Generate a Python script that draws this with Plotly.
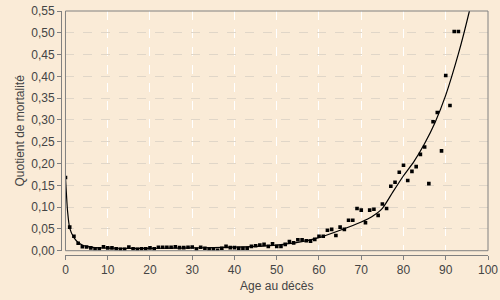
import plotly.graph_objects as go

ages = list(range(0, 94))
quotients = [
    0.168, 0.054, 0.033, 0.017, 0.009, 0.0085, 0.0065, 0.0045, 0.0045, 0.009,
    0.0065, 0.0065, 0.0045, 0.003, 0.003, 0.0085, 0.0045, 0.003, 0.0045, 0.0045,
    0.0065, 0.0045, 0.008, 0.008, 0.008, 0.008, 0.009, 0.007, 0.007, 0.008,
    0.0085, 0.003, 0.008, 0.0055, 0.004, 0.003, 0.001, 0.0055, 0.010, 0.007,
    0.007, 0.0055, 0.0055, 0.0055, 0.010, 0.0115, 0.013, 0.0145, 0.010, 0.016,
    0.010, 0.010, 0.0145, 0.021, 0.018, 0.025, 0.025, 0.023, 0.022, 0.026,
    0.033, 0.033, 0.047, 0.049, 0.035, 0.054, 0.049, 0.070, 0.070, 0.097,
    0.093, 0.064, 0.093, 0.095, 0.081, 0.107, 0.097, 0.148, 0.157, 0.180,
    0.196, 0.161, 0.182, 0.193, 0.221, 0.238, 0.154, 0.296, 0.317, 0.229,
    0.402, 0.333, 0.503, 0.503,
]

fit_ages = [0, 0.5, 1, 2, 3, 4, 5, 7, 10, 15, 20, 25, 30, 35, 40, 45, 50, 55,
            60, 65, 70, 72.5, 75, 77.5, 80, 82.5, 85, 87.5, 90, 93, 95.6, 97]
fit_values = [0.168, 0.09, 0.052, 0.030, 0.019, 0.013, 0.010, 0.007, 0.006,
              0.0055, 0.0055, 0.0058, 0.0065, 0.007, 0.008, 0.010, 0.013, 0.019,
              0.030, 0.047, 0.066, 0.078, 0.097, 0.135, 0.172, 0.205, 0.246,
              0.295, 0.357, 0.452, 0.55, 0.61]

x_ticks = list(range(0, 101, 10))
y_ticks = [0.0, 0.05, 0.10, 0.15, 0.20, 0.25, 0.30, 0.35, 0.40, 0.45, 0.50, 0.55]

bg = "#FAEBD7"
axis_col = "#808080"
text_col = "#444444"

fig = go.Figure()
fig.add_trace(go.Scatter(x=fit_ages, y=fit_values, mode="lines",
                         line=dict(color="black", width=1.2, shape="spline", smoothing=0.6),
                         hoverinfo="skip", showlegend=False))
fig.add_trace(go.Scatter(x=ages, y=quotients, mode="markers",
                         marker=dict(symbol="square", size=3.6, color="black", line=dict(width=0)),
                         showlegend=False, cliponaxis=True))

fig.update_layout(
    width=500, height=300,
    margin=dict(l=61, r=12, t=11, b=45, autoexpand=False),
    paper_bgcolor=bg, plot_bgcolor=bg,
    separators=", ",
    font=dict(family="Liberation Sans, Arial, sans-serif", size=12, color=text_col),
    xaxis=dict(
        domain=[0.0105, 1], range=[0, 100], tickvals=x_ticks,
        anchor="free", position=0, automargin=False,
        showline=True, linecolor=axis_col, linewidth=1,
        ticks="outside", ticklen=4, tickcolor=axis_col,
        showgrid=True, gridcolor="#FFFFFF", griddash="dash", gridwidth=1,
        zeroline=False,
        title=dict(text="Age au décès", font=dict(size=12, color=text_col), standoff=5),
    ),
    yaxis=dict(
        domain=[0.0176, 1], range=[0, 0.55], tickvals=y_ticks, tickformat=".2f",
        anchor="free", position=0, automargin=False,
        showline=True, linecolor=axis_col, linewidth=1,
        ticks="outside", ticklen=4, tickcolor=axis_col,
        showgrid=True, gridcolor="#E0D6C8", griddash="dash", gridwidth=1,
        zeroline=False,
        title=dict(text="Quotient de mortalité", font=dict(size=12, color=text_col), standoff=3),
    ),
    shapes=[dict(type="rect", xref="x domain", yref="y domain", x0=0, x1=1, y0=0, y1=1,
                 line=dict(color=axis_col, width=1), layer="above")],
)

fig.write_html("out.html")
